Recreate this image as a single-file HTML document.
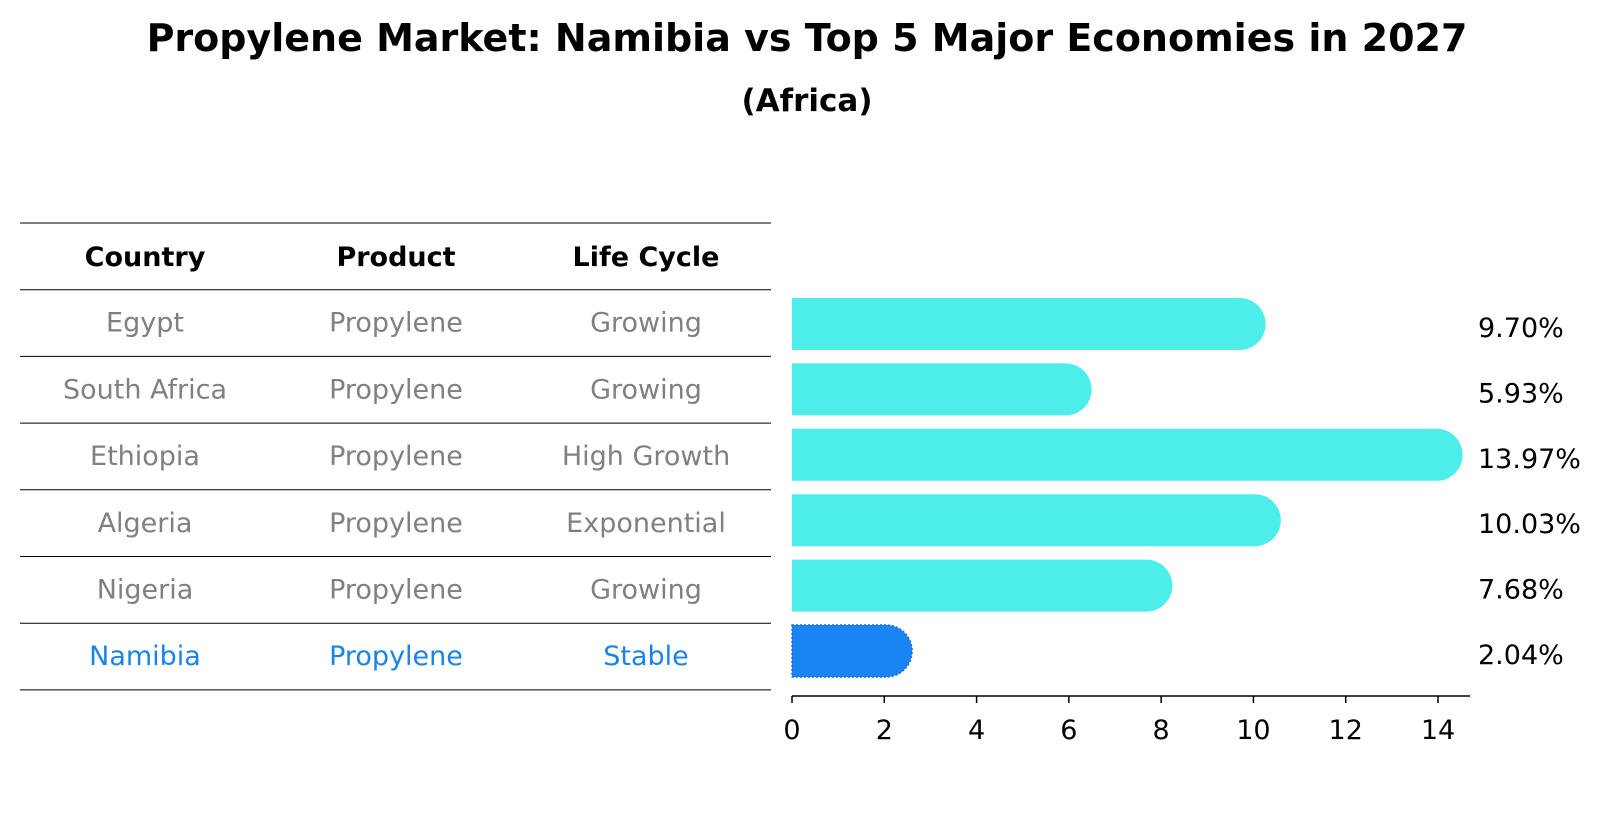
<!DOCTYPE html>
<html><head><meta charset="utf-8"><style>
body{margin:0;background:#fff;}
svg text{font-family:"DejaVu Sans","Liberation Sans",sans-serif;}
</style></head><body>
<svg width="1604" height="823" viewBox="0 0 1604 823">
<text x="807" y="51" text-anchor="middle" font-size="38" font-weight="bold">Propylene Market: Namibia vs Top 5 Major Economies in 2027</text>
<text x="807" y="111" text-anchor="middle" font-size="31" font-weight="bold">(Africa)</text>
<g id="table"></g>
<g id="bars"></g>
</svg>
<script>
const countries=["Egypt","South Africa","Ethiopia","Algeria","Nigeria","Namibia"];
const products=["Propylene","Propylene","Propylene","Propylene","Propylene","Propylene"];
const lifeCycles=["Growing","Growing","High Growth","Exponential","Growing","Stable"];
const values=[9.70,5.93,13.97,10.03,7.68,2.04];
const ticks=[0,2,4,6,8,10,12,14];
const NS="http://www.w3.org/2000/svg";
function mk(tag,attrs,parent){const e=document.createElementNS(NS,tag);for(const k in attrs)e.setAttribute(k,attrs[k]);parent.appendChild(e);return e;}
const tbl=document.getElementById('table');
const lineY=i=>223+i*66.7;
const colX=[145,396,646];
for(let i=0;i<=countries.length+1;i++){
  const l=mk('line',{x1:20,x2:771,y1:lineY(i),y2:lineY(i),stroke:'#000','stroke-width':1},tbl);
  
  
}
["Country","Product","Life Cycle"].forEach((h,j)=>{
  const t=mk('text',{x:colX[j],y:lineY(0)+43,'text-anchor':'middle','font-size':27,'font-weight':'bold'},tbl);
  t.textContent=h;
  
  
});
countries.forEach((c,i)=>{
  const hl=c==="Namibia";
  [c,products[i],lifeCycles[i]].forEach((v,j)=>{
    const t=mk('text',{x:colX[j],y:lineY(i+1)+42,'text-anchor':'middle','font-size':27,fill:hl?'#1a84e6':'#808080'},tbl);
    t.textContent=v;
    
    
  });
});
const bars=document.getElementById('bars');
const x0=792,pxPer=(1438-792)/14;
const X=v=>x0+v*pxPer;
const Y=i=>324+i*65.4;
const h=52,r=26;
values.forEach((v,i)=>{
  const hl=countries[i]==="Namibia";
  const xe=X(v),yc=Y(i);
  const d=`M${x0},${yc-h/2} L${xe},${yc-h/2} A${r},${r} 0 0 1 ${xe},${yc+h/2} L${x0},${yc+h/2} Z`;
  const p=mk('path',{d:d,fill:hl?'#1a84f5':'#4deeea'},bars);
  if(hl){p.setAttribute('stroke','#1a6fd6');p.setAttribute('stroke-dasharray','2 2');p.setAttribute('stroke-width','1.5');}
  
  
  const t=mk('text',{x:1478,y:yc+13,'font-size':27},bars);
  t.textContent=v.toFixed(2)+'%';
  
  
});
const ax=mk('line',{x1:x0,x2:1470,y1:696,y2:696,stroke:'#000','stroke-width':1.5},bars);


ticks.forEach(tv=>{
  const l=mk('line',{x1:X(tv),x2:X(tv),y1:696,y2:703,stroke:'#000','stroke-width':1.5},bars);
  
  
  const t=mk('text',{x:X(tv),y:739,'text-anchor':'middle','font-size':27},bars);
  t.textContent=tv;
  
  
});
</script>
</body></html>
